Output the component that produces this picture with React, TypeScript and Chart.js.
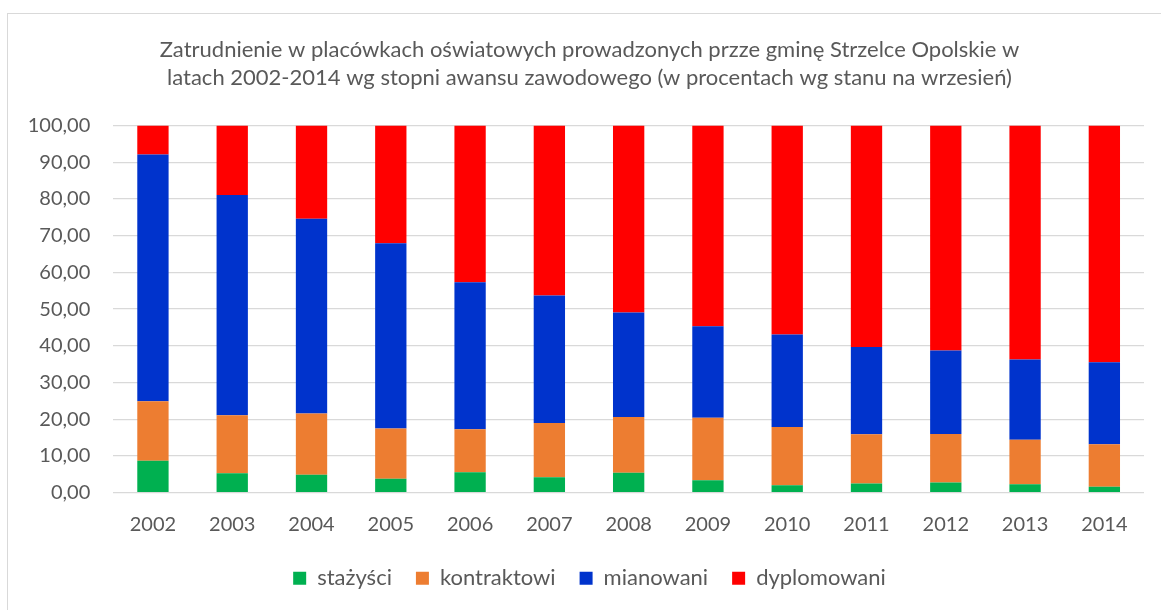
import React, { useEffect, useRef } from "react";
import { Chart, registerables } from "chart.js";

Chart.register(...registerables);

const years = ["2002", "2003", "2004", "2005", "2006", "2007", "2008", "2009", "2010", "2011", "2012", "2013", "2014"];
const stazysci = [8.7, 5.3, 4.9, 3.8, 5.6, 4.2, 5.4, 3.4, 2.0, 2.5, 2.8, 2.3, 1.6];
const kontraktowi = [16.2, 15.8, 16.7, 13.7, 11.7, 14.8, 15.2, 17.0, 15.9, 13.4, 13.2, 12.1, 11.6];
const mianowani = [67.2, 60.0, 53.0, 50.4, 40.0, 34.7, 28.5, 24.9, 25.2, 23.8, 22.7, 21.9, 22.3];
const dyplomowani = [7.9, 18.9, 25.4, 32.1, 42.7, 46.3, 50.9, 54.7, 56.9, 60.3, 61.3, 63.7, 64.5];
const seriesNames = ["stażyści", "kontraktowi", "mianowani", "dyplomowani"];
const seriesColors = ["#00B050", "#ED7D31", "#0033CC", "#FF0000"];
const titleLines = [
  "Zatrudnienie w placówkach oświatowych prowadzonych przze gminę Strzelce Opolskie w",
  "latach 2002-2014 wg stopni awansu zawodowego (w procentach wg stanu na wrzesień)",
];
const yMin = 0;
const yMax = 100;
const yStep = 10;

const CANVAS_W = 1163;
const CANVAS_H = 600;

export default function App() {
  const ref = useRef<HTMLCanvasElement | null>(null);

  useEffect(() => {
    if (!ref.current) return;
    const values = [stazysci, kontraktowi, mianowani, dyplomowani];
    const chart = new Chart(ref.current, {
      type: "bar",
      data: {
        labels: years,
        datasets: seriesNames.map((name, i) => ({
          label: name,
          data: values[i],
          backgroundColor: seriesColors[i],
          borderWidth: 0,
          barPercentage: 0.395,
          categoryPercentage: 1,
        })),
      },
      options: {
        animation: false,
        responsive: false,
        devicePixelRatio: 1,
        layout: { padding: { left: 0, right: 0, top: 0, bottom: 14.7 } },
        font: { family: "Lato", size: 20 },
        plugins: {
          title: {
            display: true,
            text: titleLines,
            color: "#595959",
            font: { family: "Lato", size: 22, weight: "normal", lineHeight: 1.295 },
            padding: { top: 21.25, bottom: 33.25 },
          },
          legend: {
            position: "bottom",
            labels: {
              color: "#595959",
              font: { family: "Lato", size: 22 },
              boxWidth: 13,
              boxHeight: 13,
              padding: 24,
            },
          },
          tooltip: { enabled: false },
        },
        scales: {
          x: {
            stacked: true,
            grid: { display: false, drawTicks: false },
            border: { display: false },
            ticks: { color: "#595959", font: { family: "Lato", size: 20 }, padding: 20, maxRotation: 0 },
            afterFit: (scale: any) => {
              scale.height = 50.6;
            },
          },
          y: {
            stacked: true,
            min: yMin,
            max: yMax,
            grid: { color: "#d9d9d9", lineWidth: 1.3, drawTicks: false },
            border: { display: false },
            ticks: {
              stepSize: yStep,
              color: "#595959",
              font: { family: "Lato", size: 20 },
              padding: 23,
              callback: (v: any) => Number(v).toFixed(2).replace(".", ","),
            },
            afterFit: (scale: any) => {
              scale.width = 105.3;
            },
          },
          yRightSpace: {
            type: "linear",
            position: "right",
            display: true,
            grid: { display: false, drawTicks: false },
            border: { display: false },
            ticks: { display: false },
            afterFit: (scale: any) => {
              scale.width = 27;
            },
          },
        },
      },
    });
    return () => chart.destroy();
  }, []);

  return (
    <div style={{ position: "fixed", left: 0, top: 0, width: "100vw", height: "100vh", overflow: "hidden", background: "#fff" }}>
      <div
        style={{
          position: "absolute",
          left: 7,
          top: 13,
          width: CANVAS_W,
          height: CANVAS_H,
          border: "1px solid #d9d9d9",
          background: "#fff",
        }}
      >
        <canvas ref={ref} width={CANVAS_W} height={CANVAS_H} style={{ display: "block", width: CANVAS_W, height: CANVAS_H }} />
      </div>
    </div>
  );
}
